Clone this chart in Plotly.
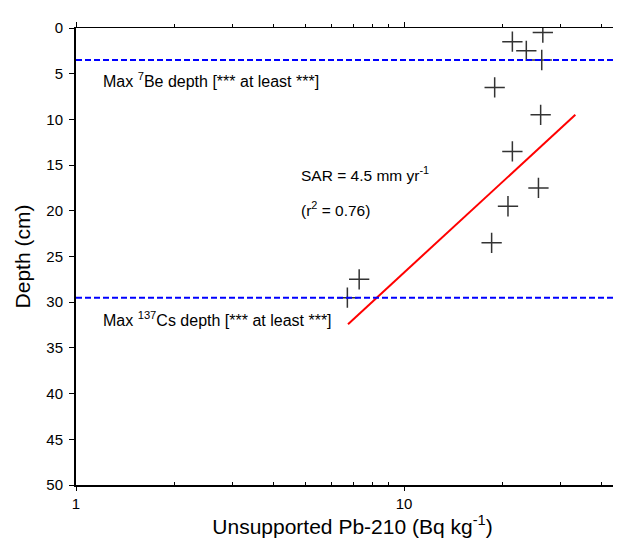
import plotly.graph_objects as go
import numpy as np

# ---- data ----
activity = [26.5, 21.4, 23.6, 26.3, 18.9, 26.1, 21.4, 25.7, 20.75, 18.5, 7.3, 6.72]   # Bq kg-1
depth = [0.5, 1.5, 2.5, 3.5, 6.5, 9.5, 13.5, 17.5, 19.5, 23.5, 27.5, 29.5]            # cm

fit_activity = [6.75, 33.3]
fit_depth = [32.4, 9.5]

be7_max_depth = 3.5
cs137_max_depth = 29.5

x_major_ticks = [1, 10]
x_major_labels = ["1", "10"]
x_minor_ticks = [2, 3, 4, 5, 6, 7, 8, 9, 20, 30, 40]
y_ticks = [0, 5, 10, 15, 20, 25, 30, 35, 40, 45, 50]

FONT = "Arial, 'Liberation Sans', sans-serif"
x_range = [0, 1.686]

fig = go.Figure()

# dashed horizontal reference lines
for d in (be7_max_depth, cs137_max_depth):
    fig.add_shape(type="line", xref="paper", x0=0, x1=1, yref="y", y0=d, y1=d,
                  line=dict(color="#0000ff", width=2, dash="6px,3px"))

fig.add_trace(go.Scatter(x=activity, y=depth, mode="markers",
                         marker=dict(symbol="cross-thin", size=14.5,
                                     line=dict(color="#333333", width=1.5)),
                         showlegend=False, hoverinfo="skip"))

fig.add_trace(go.Scatter(x=fit_activity, y=fit_depth, mode="lines",
                         line=dict(color="#ff0000", width=2),
                         showlegend=False, hoverinfo="skip"))

# invisible trace to carry the top axis
fig.add_trace(go.Scatter(x=fit_activity, y=fit_depth, xaxis="x2", mode="markers",
                         marker=dict(opacity=0), showlegend=False, hoverinfo="skip"))

fig.update_layout(
    width=621, height=541,
    margin=dict(l=68, r=0, t=20, b=64),
    paper_bgcolor="white", plot_bgcolor="white",
    font=dict(family=FONT, color="black", size=15),
    xaxis=dict(type="log", range=x_range, showgrid=False, zeroline=False, automargin=False,
               showline=True, linecolor="black", linewidth=1.5,
               ticks="outside", ticklen=4, tickwidth=1, tickcolor="black",
               tickmode="array", tickvals=x_major_ticks, ticktext=x_major_labels,
               tickfont=dict(size=15),
               minor=dict(ticks="inside", ticklen=3, tickwidth=1, tickcolor="black",
                          tickmode="array", tickvals=x_minor_ticks),
               title=dict(text="Unsupported Pb-210 (Bq kg<sup>-1</sup>)",
                          font=dict(size=21), standoff=8)),
    xaxis2=dict(type="log", range=x_range, overlaying="x", side="top", automargin=False,
                showgrid=False, zeroline=False, showticklabels=False,
                showline=True, linecolor="black", linewidth=1,
                ticks="outside", ticklen=5, tickwidth=1, tickcolor="black",
                tickmode="array", tickvals=x_major_ticks,
                minor=dict(ticks="outside", ticklen=3, tickwidth=1, tickcolor="black",
                           tickmode="array", tickvals=x_minor_ticks)),
    yaxis=dict(range=[50, 0], showgrid=False, zeroline=False, automargin=False,
               showline=True, linecolor="black", linewidth=2,
               ticks="outside", ticklen=5, tickwidth=1, tickcolor="black",
               ticklabelstandoff=3,
               tickmode="array", tickvals=y_ticks, tickfont=dict(size=15),
               title=dict(text="Depth (cm)", font=dict(size=21), standoff=10)),
)

fig.add_annotation(x=np.log10(1.19), y=5.7, xref="x", yref="y", xanchor="left", yanchor="middle",
                   text="Max <sup>7</sup>Be depth [*** at least ***]", showarrow=False,
                   font=dict(size=16))
fig.add_annotation(x=np.log10(1.19), y=31.8, xref="x", yref="y", xanchor="left", yanchor="middle",
                   text="Max <sup>137</sup>Cs depth [*** at least ***]", showarrow=False,
                   font=dict(size=16))
fig.add_annotation(x=np.log10(4.78), y=16.0, xref="x", yref="y", xanchor="left", yanchor="middle",
                   text="SAR = 4.5 mm yr<sup>-1</sup>", showarrow=False, font=dict(size=15.5))
fig.add_annotation(x=np.log10(4.78), y=19.8, xref="x", yref="y", xanchor="left", yanchor="middle",
                   text="(r<sup>2</sup> = 0.76)", showarrow=False, font=dict(size=15.5))

fig.write_html("out.html")
